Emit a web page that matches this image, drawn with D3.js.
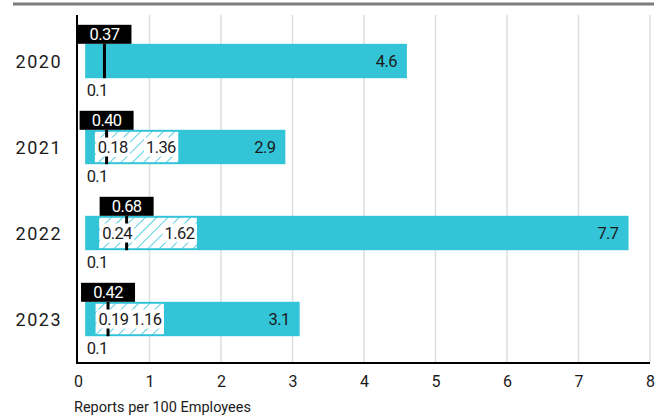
<!DOCTYPE html>
<html>
<head>
<meta charset="utf-8">
<script src="https://cdn.jsdelivr.net/npm/d3@7/dist/d3.min.js"></script>
<style>
  html, body { margin: 0; padding: 0; background: #fff; }
  svg { display: block; font-family: Roboto, "Noto Sans", sans-serif; }
</style>
</head>
<body>
<svg id="chart" width="667" height="418"></svg>
<script>
// Reports per 100 employees, by year: range (min..max), quartiles and median
const years      = ["2020", "2021", "2022", "2023"];
const minVals    = [0.1, 0.1, 0.1, 0.1];
const maxVals    = [4.6, 2.9, 7.7, 3.1];
const medianVals = [0.37, 0.40, 0.68, 0.42];
const q1Vals     = [null, 0.18, 0.24, 0.19];
const q3Vals     = [null, 1.36, 1.62, 1.16];
const xTicks     = [0, 1, 2, 3, 4, 5, 6, 7, 8];
const axisTitle  = "Reports per 100 Employees";

const rows = years.map((year, i) => ({
  year, min: minVals[i], max: maxVals[i], median: medianVals[i],
  q1: q1Vals[i], q3: q3Vals[i]
}));

const plot = { left: 78, right: 650, top: 15, bottom: 363 };
const BAR = "#33c4d8";
const INK = "#1b1b1b";
const LABEL_SIZE = "16.5px";
const LABEL_TRACK = "-0.6px";

const svg = d3.select("#chart");

const x = d3.scaleLinear().domain([0, 8]).range([plot.left, plot.right]);
const y = d3.scaleBand().domain(years).range([18, 362])
  .paddingInner(0.6).paddingOuter(0.3);

const fmt2 = d3.format(".2f");
const fmt1 = d3.format(".1f");

// diagonal hatch for the interquartile span
const defs = svg.append("defs");
const pat = defs.append("pattern")
  .attr("id", "hatch").attr("patternUnits", "userSpaceOnUse")
  .attr("width", 8).attr("height", 8)
  .attr("patternTransform", "rotate(45)");
pat.append("rect").attr("width", 8).attr("height", 8).attr("fill", "#fff");
pat.append("line").attr("x1", 0).attr("y1", 0).attr("x2", 0).attr("y2", 8)
  .attr("stroke", BAR).attr("stroke-width", 1.6);

// top rule
svg.append("line")
  .attr("x1", 13).attr("x2", 654).attr("y1", 4).attr("y2", 4)
  .attr("stroke", "#7d7d7d").attr("stroke-width", 3);

// vertical gridlines
svg.append("g").selectAll("line").data(xTicks.filter(t => t > 0)).join("line")
  .attr("x1", d => x(d)).attr("x2", d => x(d))
  .attr("y1", plot.top).attr("y2", plot.bottom)
  .attr("stroke", "#dedede").attr("stroke-width", 1.5);

// x axis
const xAxis = svg.append("g")
  .attr("transform", `translate(0,${plot.bottom})`)
  .call(d3.axisBottom(x).tickValues(xTicks).tickSize(0).tickPadding(13).tickFormat(d3.format("d")));
xAxis.select(".domain").remove();
xAxis.selectAll("text")
  .attr("fill", INK).style("font-size", "16px").style("font-family", "Roboto, sans-serif");

svg.append("line")
  .attr("x1", plot.left - 1).attr("x2", plot.right).attr("y1", plot.bottom).attr("y2", plot.bottom)
  .attr("stroke", "#000").attr("stroke-width", 2);
svg.append("line")
  .attr("x1", plot.left - 1).attr("x2", plot.left - 1).attr("y1", plot.top).attr("y2", plot.bottom + 1)
  .attr("stroke", "#000").attr("stroke-width", 2);

svg.append("text")
  .attr("x", plot.left - 4).attr("y", 412)
  .attr("fill", INK).style("font-size", "14.5px")
  .text(axisTitle);

// year labels
svg.append("g").selectAll("text").data(rows).join("text")
  .attr("x", 62).attr("y", d => y(d.year) + y.bandwidth() / 2)
  .attr("text-anchor", "end").attr("dominant-baseline", "central")
  .attr("fill", INK).style("font-size", "18px").style("letter-spacing", "1.5px")
  .text(d => d.year);

const g = svg.append("g").selectAll("g").data(rows).join("g");
const bw = y.bandwidth();

// range bar
g.append("rect")
  .attr("x", d => x(d.min)).attr("y", d => y(d.year))
  .attr("width", d => x(d.max) - x(d.min)).attr("height", bw)
  .attr("fill", BAR);

// interquartile span
const iq = g.filter(d => d.q1 != null);
iq.append("rect")
  .attr("x", d => x(d.q1) + 4).attr("y", d => y(d.year) + 2)
  .attr("width", d => x(d.q3) - x(d.q1) - 1).attr("height", bw - 4)
  .attr("fill", "url(#hatch)");

// median marker
g.append("line")
  .attr("x1", d => x(d.median)).attr("x2", d => x(d.median))
  .attr("y1", d => y(d.year)).attr("y2", d => y(d.year) + bw)
  .attr("stroke", "#000").attr("stroke-width", 3);

// quartile labels on white chips
function chip(sel, valueKey, anchor, xpos) {
  const t = sel.append("text")
    .attr("x", xpos).attr("y", d => y(d.year) + bw / 2)
    .attr("text-anchor", anchor).attr("dominant-baseline", "central")
    .attr("fill", INK).style("font-size", LABEL_SIZE).style("letter-spacing", LABEL_TRACK)
    .text(d => fmt2(d[valueKey]));
  t.each(function (d) {
    const b = this.getBBox();
    d3.select(this.parentNode).insert("rect", () => this)
      .attr("x", b.x - 2).attr("y", y(d.year) + bw / 2 - 9.5)
      .attr("width", b.width + 4).attr("height", 19)
      .attr("fill", "#fff");
  });
}
chip(iq, "q1", "start", d => x(d.q1) + 7);
chip(iq, "q3", "end", d => x(d.q3) + 0.5);

// max value label
g.append("text")
  .attr("x", d => x(d.max) - 10).attr("y", d => y(d.year) + bw / 2)
  .attr("text-anchor", "end").attr("dominant-baseline", "central")
  .attr("fill", INK).style("font-size", LABEL_SIZE).style("letter-spacing", LABEL_TRACK)
  .text(d => fmt1(d.max));

// min value label
g.append("text")
  .attr("x", d => x(d.min) + 1.5).attr("y", d => y(d.year) + bw + 18)
  .attr("fill", INK).style("font-size", LABEL_SIZE).style("letter-spacing", LABEL_TRACK)
  .text(d => fmt1(d.min));

// median callout
g.append("rect")
  .attr("x", d => x(d.median) - 27).attr("y", d => y(d.year) - 19)
  .attr("width", 54).attr("height", 19).attr("fill", "#000");
g.append("text")
  .attr("x", d => x(d.median)).attr("y", d => y(d.year) - 4)
  .attr("text-anchor", "middle")
  .attr("fill", "#fff").style("font-size", LABEL_SIZE).style("letter-spacing", LABEL_TRACK)
  .text(d => fmt2(d.median));
</script>
</body>
</html>
